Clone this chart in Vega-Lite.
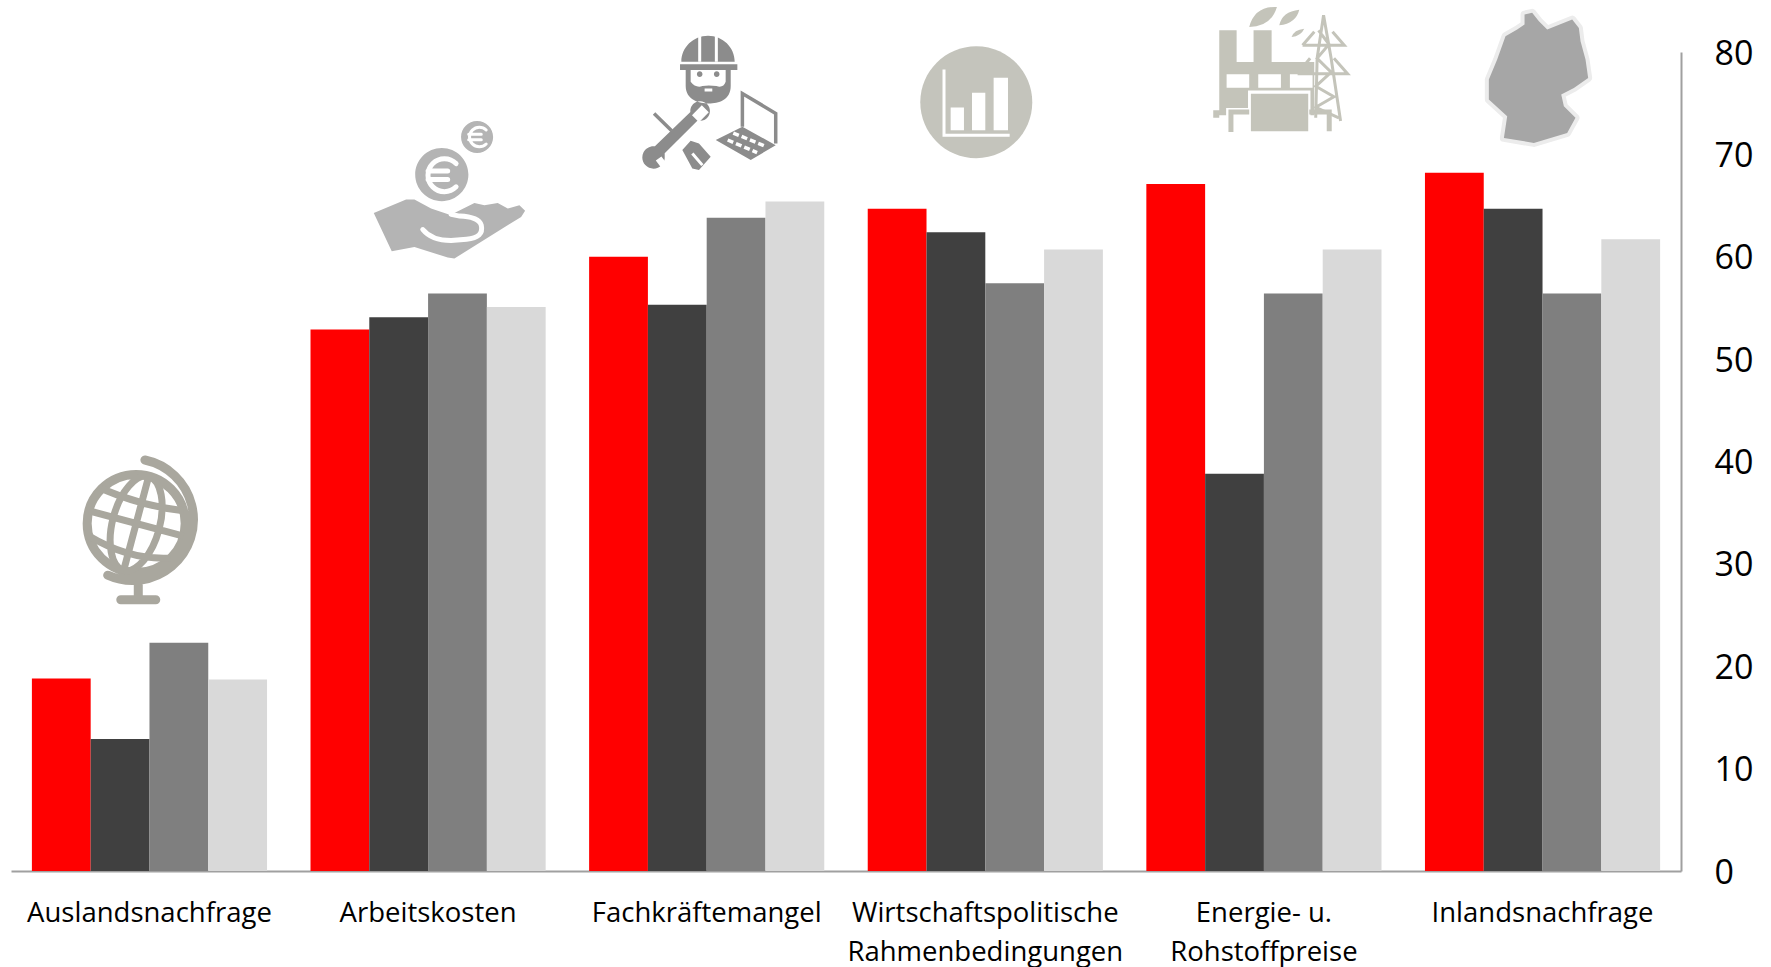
{
"$schema":"https://vega.github.io/schema/vega-lite/v6.json",
"width":1670,"height":819,
"autosize":"none",
"padding":{"left":11,"top":52,"right":90,"bottom":96},
"background":"white",
"config":{"view":{"stroke":null},"font":"Open Sans"},
"datasets":{
"bars":[
{"Grund":"Auslandsnachfrage","Reihe":"1","Wert":18.8},{"Grund":"Auslandsnachfrage","Reihe":"2","Wert":12.9},{"Grund":"Auslandsnachfrage","Reihe":"3","Wert":22.3},{"Grund":"Auslandsnachfrage","Reihe":"4","Wert":18.7},
{"Grund":"Arbeitskosten","Reihe":"1","Wert":52.9},{"Grund":"Arbeitskosten","Reihe":"2","Wert":54.1},{"Grund":"Arbeitskosten","Reihe":"3","Wert":56.4},{"Grund":"Arbeitskosten","Reihe":"4","Wert":55.1},
{"Grund":"Fachkräftemangel","Reihe":"1","Wert":60},{"Grund":"Fachkräftemangel","Reihe":"2","Wert":55.3},{"Grund":"Fachkräftemangel","Reihe":"3","Wert":63.8},{"Grund":"Fachkräftemangel","Reihe":"4","Wert":65.4},
{"Grund":"Wirtschaftspolitische Rahmenbedingungen","Reihe":"1","Wert":64.7},{"Grund":"Wirtschaftspolitische Rahmenbedingungen","Reihe":"2","Wert":62.4},{"Grund":"Wirtschaftspolitische Rahmenbedingungen","Reihe":"3","Wert":57.4},{"Grund":"Wirtschaftspolitische Rahmenbedingungen","Reihe":"4","Wert":60.7},
{"Grund":"Energie- u. Rohstoffpreise","Reihe":"1","Wert":67.1},{"Grund":"Energie- u. Rohstoffpreise","Reihe":"2","Wert":38.8},{"Grund":"Energie- u. Rohstoffpreise","Reihe":"3","Wert":56.4},{"Grund":"Energie- u. Rohstoffpreise","Reihe":"4","Wert":60.7},
{"Grund":"Inlandsnachfrage","Reihe":"1","Wert":68.2},{"Grund":"Inlandsnachfrage","Reihe":"2","Wert":64.7},{"Grund":"Inlandsnachfrage","Reihe":"3","Wert":56.4},{"Grund":"Inlandsnachfrage","Reihe":"4","Wert":61.7}
],
"icons":[
{"Grund":"Auslandsnachfrage","icon":"globus","pegel":33.2},
{"Grund":"Arbeitskosten","icon":"hand","pegel":66.5},
{"Grund":"Fachkräftemangel","icon":"arbeiter","pegel":75.3},
{"Grund":"Wirtschaftspolitische Rahmenbedingungen","icon":"diagramm","pegel":75.1},
{"Grund":"Energie- u. Rohstoffpreise","icon":"fabrik","pegel":78.7},
{"Grund":"Inlandsnachfrage","icon":"deutschland","pegel":77.6}
]},
"layer":[
{"data":{"name":"bars"},"mark":{"type":"bar"},
"encoding":{
"x":{"field":"Grund","type":"nominal","sort":null,"scale":{"paddingInner":0.156,"paddingOuter":0.075},
"axis":{"title":null,"labelAngle":0,"ticks":false,"domainColor":"#a0a0a0","domainWidth":2,"labelFont":"Open Sans","labelFontSize":27.5,"labelColor":"#000000","labelPadding":28,"labelBaseline":"top","labelLineHeight":39,"labelOverlap":false,"labelLimit":0,"labelBound":false,
"labelExpr":"datum.label==='Wirtschaftspolitische Rahmenbedingungen'?['Wirtschaftspolitische','Rahmenbedingungen']:datum.label==='Energie- u. Rohstoffpreise'?['Energie- u.','Rohstoffpreise']:datum.label"}},
"xOffset":{"field":"Reihe","type":"nominal","scale":{"paddingInner":0,"paddingOuter":0}},
"y":{"field":"Wert","type":"quantitative","scale":{"domain":[0,80],"nice":false},
"axis":{"title":null,"orient":"right","values":[0,10,20,30,40,50,60,70,80],"grid":false,"ticks":false,"domainColor":"#a0a0a0","domainWidth":2,"labelFont":"Open Sans","labelFontSize":34,"labelColor":"#000000","labelPadding":33,"labelAlign":"left","labelOffset":2}},
"color":{"field":"Reihe","type":"nominal","legend":null,"scale":{"domain":["1","2","3","4"],"range":["#FF0000","#404040","#7F7F7F","#D9D9D9"]}}
}},
{"data":{"name":"icons"},
"encoding":{
"x":{"field":"Grund","type":"nominal","sort":null,"scale":{"paddingInner":0.156,"paddingOuter":0.075},
"axis":{"title":null,"labelAngle":0,"ticks":false,"domainColor":"#a0a0a0","domainWidth":2,"labelFont":"Open Sans","labelFontSize":27.5,"labelColor":"#000000","labelPadding":28,"labelBaseline":"top","labelLineHeight":39,"labelOverlap":false,"labelLimit":0,"labelBound":false,
"labelExpr":"datum.label==='Wirtschaftspolitische Rahmenbedingungen'?['Wirtschaftspolitische','Rahmenbedingungen']:datum.label==='Energie- u. Rohstoffpreise'?['Energie- u.','Rohstoffpreise']:datum.label"}},
"y":{"field":"pegel","type":"quantitative","scale":{"domain":[0,80],"nice":false},
"axis":{"title":null,"orient":"right","values":[0,10,20,30,40,50,60,70,80],"grid":false,"ticks":false,"domainColor":"#a0a0a0","domainWidth":2,"labelFont":"Open Sans","labelFontSize":34,"labelColor":"#000000","labelPadding":33,"labelAlign":"left","labelOffset":2}}
},
"layer":[
{"transform":[{"filter":"datum.icon==='globus'"}],"mark":{"type":"point","filled":false,"opacity":1,"size":19600,"color":"#A9A79E","strokeWidth":9,"strokeCap":"round",
"shape":"M-.89,-.11A.7,.7,0,1,1,.51,-.11A.7,.7,0,1,1,-.89,-.11ZM-.065,-1.016A.87,.87,0,1,1,-.597,.63M-.16,.72L-.16,.98M-.41,.98L.09,.98"}},
{"transform":[{"filter":"datum.icon==='globus'"}],"mark":{"type":"point","filled":false,"opacity":1,"size":19600,"color":"#A9A79E","strokeWidth":7,
"shape":"M-.01,-.786L-.37,.566M-.01,-.786A.7,.35,105,0,1,-.37,.566M-.01,-.786A.7,.35,105,0,0,-.37,.566M-.866,-.291L.486,.071M-.684,-.605Q-.08,-.35,.486,-.291M-.866,.071Q-.28,.42,.304,.385"}},

{"transform":[{"filter":"datum.icon==='hand'"}],"mark":{"type":"point","filled":true,"opacity":1,"size":19600,"color":"#B4B4B4",
"shape":"M-.184,-.224A.38,.38,0,1,1,.576,-.224A.38,.38,0,1,1,-.184,-.224ZM.471,-.76A.229,.229,0,1,1,.929,-.76A.229,.229,0,1,1,.471,-.76ZM-.776,.324L-.314,.133L-.195,.133L.043,.262L.329,.357L.376,.324L.662,.181L.805,.214L.995,.181L1.138,.262L1.305,.214L1.386,.295L1.329,.381L.376,.976L.281,.962L-.195,.81L-.519,.871Z"}},
{"transform":[{"filter":"datum.icon==='hand'"}],"mark":{"type":"point","filled":false,"opacity":1,"size":19600,"color":"#FFFFFF","strokeWidth":5,"strokeCap":"round",
"shape":"M-.076,.562Q.05,.72,.329,.72L.55,.70Q.80,.68,.76,.50Q.72,.38,.45,.37L.33,.345M.40,-.38A.235,.235,0,1,0,.40,-.048M0,-.276L.28,-.276M0,-.152L.28,-.152"}},
{"transform":[{"filter":"datum.icon==='hand'"}],"mark":{"type":"point","filled":false,"opacity":1,"size":19600,"color":"#FFFFFF","strokeWidth":3,"strokeCap":"round",
"shape":"M.83,-.86A.14,.14,0,1,0,.83,-.66M.58,-.80L.76,-.80M.58,-.72L.76,-.72"}},

{"transform":[{"filter":"datum.icon==='arbeiter'"}],"mark":{"type":"point","filled":true,"opacity":1,"size":19600,"color":"#8C8C8C",
"shape":"M-.362,-.548A.381,.371,0,0,1,.40,-.548ZM-.381,-.514L.438,-.514L.438,-.429L-.381,-.429ZM-.3,-.43L-.3,-.2C-.3,0,-.1,.05,.03,.05C.17,.05,.343,0,.343,-.2L.343,-.43ZM-.233,.17A.14,.14,0,1,1,-.13,.29L-.6,.76L-.6,.81A.16,.16,0,1,1,-.74,.66ZM-.348,.714L-.229,.581L-.11,.619L.057,.81L-.11,1L-.205,.976ZM.129,.571L.51,.381L.986,.643L.629,.857Z"}},
{"transform":[{"filter":"datum.icon==='arbeiter'"}],"mark":{"type":"point","filled":false,"opacity":1,"size":19600,"color":"#8C8C8C","strokeWidth":3.5,
"shape":"M.51,.381L.51,-.095L.986,.19L.986,.62M-.752,.19L-.5,.438"}},
{"transform":[{"filter":"datum.icon==='arbeiter'"}],"mark":{"type":"point","filled":true,"opacity":1,"size":19600,"color":"#FFFFFF",
"shape":"M-.229,-.429L-.229,-.262Q-.16,-.17,-.06,-.2L.03,-.21L.14,-.2Q.24,-.17,.271,-.262L.271,-.429ZM-.21,.215L-.07,.075L.03,.175L-.11,.315ZM-.727,.864L-.607,1.024L-.527,.964L-.647,.804Z"}},
{"transform":[{"filter":"datum.icon==='arbeiter'"}],"mark":{"type":"point","filled":false,"opacity":1,"size":19600,"color":"#FFFFFF","strokeWidth":3,
"shape":"M-.1,-.914L-.1,-.548M.138,-.914L.138,-.548M-.03,-.143L.08,-.143M-.205,.762L-.062,.929"}},
{"transform":[{"filter":"datum.icon==='arbeiter'"}],"mark":{"type":"point","filled":false,"opacity":1,"size":19600,"color":"#FFFFFF","strokeWidth":3.5,"strokeDash":[6,3],
"shape":"M.38,.47L.84,.66M.30,.57L.72,.75"}},
{"transform":[{"filter":"datum.icon==='arbeiter'"}],"mark":{"type":"point","filled":true,"opacity":1,"size":19600,"color":"#8C8C8C",
"shape":"M-.14,-.371A.04,.04,0,1,1,-.06,-.371A.04,.04,0,1,1,-.14,-.371ZM.103,-.371A.04,.04,0,1,1,.183,-.371A.04,.04,0,1,1,.103,-.371Z"}},

{"transform":[{"filter":"datum.icon==='diagramm'"}],"mark":{"type":"point","filled":true,"opacity":1,"size":19600,"color":"#C4C4BC",
"shape":"M-.929,0A.8,.8,0,1,1,.671,0A.8,.8,0,1,1,-.929,0Z"}},
{"transform":[{"filter":"datum.icon==='diagramm'"}],"mark":{"type":"point","filled":true,"opacity":1,"size":19600,"color":"#FFFFFF",
"shape":"M-.495,.076L-.305,.076L-.305,.4L-.495,.4ZM-.19,-.133L0,-.133L0,.4L-.19,.4ZM.119,-.348L.324,-.348L.324,.4L.119,.4Z"}},
{"transform":[{"filter":"datum.icon==='diagramm'"}],"mark":{"type":"point","filled":false,"opacity":1,"size":19600,"color":"#FFFFFF","strokeWidth":3,
"shape":"M-.59,-.467L-.59,.471L.348,.471"}},

{"transform":[{"filter":"datum.icon==='fabrik'"}],"mark":{"type":"point","filled":true,"opacity":1,"size":19600,"color":"#C4C4BA",
"shape":"M-.638,-.5L-.39,-.5L-.39,-.048L-.148,-.048L-.148,-.5L.11,-.5L.11,-.048L.719,-.048L.719,.714L-.638,.714ZM-.724,.643L-.638,.643L-.638,.748L-.724,.748ZM-.21,-.548Q-.13,-.85,.186,-.833Q.1,-.55,-.21,-.548ZM.219,-.571Q.26,-.77,.505,-.795Q.46,-.6,.219,-.571ZM.395,-.405Q.43,-.51,.576,-.524Q.53,-.42,.395,-.405Z"}},
{"transform":[{"filter":"datum.icon==='fabrik'"}],"mark":{"type":"point","filled":true,"opacity":1,"size":19600,"color":"#FFFFFF",
"shape":"M-.533,.129L-.21,.129L-.21,.319L-.533,.319ZM-.081,.129L.243,.129L.243,.319L-.081,.319ZM.371,.129L.695,.129L.695,.319L.371,.319ZM-.227,.36L.665,.36L.665,.952L-.227,.952ZM-.54,.61L-.227,.61L-.227,.952L-.54,.952Z"}},
{"transform":[{"filter":"datum.icon==='fabrik'"}],"mark":{"type":"point","filled":true,"opacity":1,"size":19600,"color":"#C4C4BA",
"shape":"M-.186,.405L.633,.405L.633,.943L-.186,.943Z"}},
{"transform":[{"filter":"datum.icon==='fabrik'"}],"mark":{"type":"point","filled":false,"opacity":1,"size":19600,"color":"#C4C4BA","strokeWidth":5,
"shape":"M-.471,.952L-.471,.667L-.21,.667M.648,.667L.933,.667L.933,.943"}},
{"transform":[{"filter":"datum.icon==='fabrik'"}],"mark":{"type":"point","filled":false,"opacity":1,"size":19600,"color":"#C4C4BA","strokeWidth":3,
"shape":"M.852,-.714L.76,-.1L.74,.75M.852,-.714L.96,-.1L1.095,.795M.552,-.286L1.148,-.286L.98,-.48M.552,-.286L.72,-.48M.481,.119L1.195,.119L1,-.1M.481,.119L.66,-.1M.78,-.5L.93,-.3L.76,-.1L.96,.1L.74,.3L1,.45L.74,.6L1.07,.75"}},

{"transform":[{"filter":"datum.icon==='deutschland'"}],"mark":{"type":"point","filled":false,"opacity":1,"size":19600,"color":"#ECECEC","strokeWidth":8,"strokeJoin":"round",
"shape":"M-.257,-.886L-.148,-.91L-.052,-.79L.067,-.671L.424,-.814L.519,-.695L.543,-.505L.614,-.243L.652,.019L.448,.162L.267,.257L.305,.424L.471,.59L.352,.805L-.124,.948L-.552,.876L-.505,.567L-.767,.329L-.767,.043L-.648,-.243L-.529,-.576L-.362,-.671L-.257,-.743Z"}},
{"transform":[{"filter":"datum.icon==='deutschland'"}],"mark":{"type":"point","filled":true,"opacity":1,"size":19600,"color":"#A6A6A6",
"shape":"M-.257,-.886L-.148,-.91L-.052,-.79L.067,-.671L.424,-.814L.519,-.695L.543,-.505L.614,-.243L.652,.019L.448,.162L.267,.257L.305,.424L.471,.59L.352,.805L-.124,.948L-.552,.876L-.505,.567L-.767,.329L-.767,.043L-.648,-.243L-.529,-.576L-.362,-.671L-.257,-.743Z"}}
]}
]
}
